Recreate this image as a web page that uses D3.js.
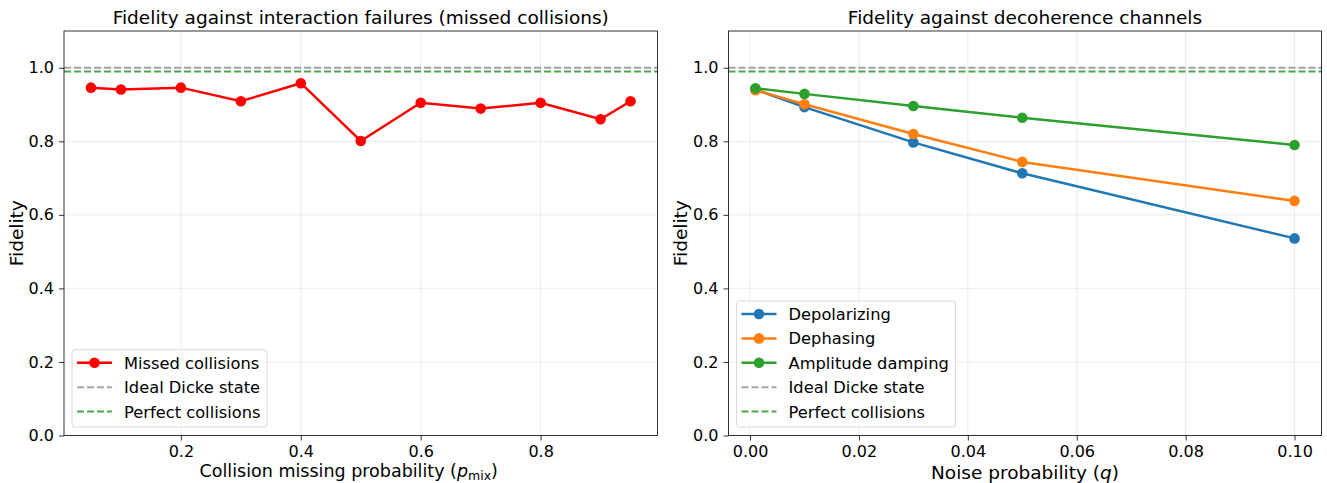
<!DOCTYPE html>
<html>
<head>
<meta charset="utf-8">
<script src="https://d3js.org/d3.v7.min.js"></script>
<style>
  body { margin: 0; background: #fff; }
  svg { font-family: "DejaVu Sans", sans-serif; }
  .grid line { stroke: #b0b0b0; stroke-opacity: 0.3; stroke-width: 0.8; }
  .axis line, .axis path { stroke: #000; stroke-width: 0.8; }
</style>
</head>
<body>
<svg width="1327" height="483"></svg>
<script>
// ---- data ----
var pMix = [0.05, 0.1, 0.2, 0.3, 0.4, 0.5, 0.6, 0.7, 0.8, 0.9, 0.95];
var fidMissed = [0.946, 0.941, 0.946, 0.909, 0.958, 0.801, 0.905, 0.889, 0.905, 0.860, 0.909];

var noiseQ = [0.001, 0.01, 0.03, 0.05, 0.1];
var fidDepol = [0.941, 0.893, 0.797, 0.713, 0.536];
var fidDephase = [0.939, 0.901, 0.820, 0.744, 0.638];
var fidAmp = [0.944, 0.929, 0.896, 0.864, 0.790];

var idealLevel = 1.0;
var perfectLevel = 0.99;

var yTicks = [0, 0.2, 0.4, 0.6, 0.8, 1.0];
var xTicksLeft = [0.2, 0.4, 0.6, 0.8];
var xTicksRight = [0, 0.02, 0.04, 0.06, 0.08, 0.10];

var svg = d3.select('svg');
var plotTop = 31, plotBottom = 435.5;

function panel(opts) {
  var x = d3.scaleLinear().domain(opts.xDomain).range([opts.left, opts.right]);
  var y = d3.scaleLinear().domain([0, 1.1]).range([plotBottom, plotTop]);
  var g = svg.append('g');

  // grid
  var grid = g.append('g').attr('class', 'grid');
  grid.selectAll('.gx').data(opts.xTicks).enter().append('line')
    .attr('x1', d => x(d)).attr('x2', d => x(d)).attr('y1', plotTop).attr('y2', plotBottom);
  grid.selectAll('.gy').data(yTicks).enter().append('line')
    .attr('y1', d => y(d)).attr('y2', d => y(d)).attr('x1', opts.left).attr('x2', opts.right);

  // reference lines
  g.append('line').attr('x1', opts.left).attr('x2', opts.right)
    .attr('y1', y(idealLevel)).attr('y2', y(idealLevel))
    .attr('stroke', 'gray').attr('stroke-opacity', 0.7).attr('stroke-width', 2)
    .attr('stroke-dasharray', '7,3');
  g.append('line').attr('x1', opts.left).attr('x2', opts.right)
    .attr('y1', y(perfectLevel)).attr('y2', y(perfectLevel))
    .attr('stroke', 'green').attr('stroke-opacity', 0.7).attr('stroke-width', 2)
    .attr('stroke-dasharray', '7,3');

  // series
  var line = d3.line().x(d => x(d[0])).y(d => y(d[1]));
  opts.series.forEach(function(s) {
    var pts = d3.zip(s.xs, s.ys);
    g.append('path').datum(pts).attr('d', line)
      .attr('fill', 'none').attr('stroke', s.color).attr('stroke-width', 2.5);
    g.selectAll(null).data(pts).enter().append('circle')
      .attr('cx', d => x(d[0])).attr('cy', d => y(d[1])).attr('r', 5.3)
      .attr('fill', s.color);
  });

  // axes
  g.append('g').attr('class', 'axis').attr('transform', 'translate(0,' + plotBottom + ')')
    .call(d3.axisBottom(x).tickValues(opts.xTicks).tickFormat(opts.xFmt).tickSize(5).tickPadding(5))
    .call(a => a.select('.domain').remove())
    .attr('font-size', 16).attr('font-family', 'DejaVu Sans');
  g.append('g').attr('class', 'axis').attr('transform', 'translate(' + opts.left + ',0)')
    .call(d3.axisLeft(y).tickValues(yTicks).tickFormat(d3.format('.1f')).tickSize(5).tickPadding(5))
    .call(a => a.select('.domain').remove())
    .attr('font-size', 16).attr('font-family', 'DejaVu Sans');

  // frame
  g.append('rect').attr('x', opts.left).attr('y', plotTop)
    .attr('width', opts.right - opts.left).attr('height', plotBottom - plotTop)
    .attr('fill', 'none').attr('stroke', '#000').attr('stroke-width', 0.8);

  // title & labels
  var cx = (opts.left + opts.right) / 2;
  g.append('text').attr('x', cx).attr('y', 24).attr('text-anchor', 'middle')
    .attr('font-size', 18.5).text(opts.title);
  var xl = g.append('text').attr('x', cx + opts.xLabelShift).attr('y', opts.xLabelY).attr('text-anchor', 'middle')
    .attr('font-size', opts.xLabelSize);
  opts.xLabel(xl);
  g.append('text').attr('transform', 'translate(' + opts.yLabelX + ',' + ((plotTop + plotBottom) / 2) + ') rotate(-90)')
    .attr('text-anchor', 'middle').attr('font-size', 18.5).text('Fidelity');

  // legend
  var items = opts.series.map(s => ({label: s.label, color: s.color, marker: true}))
    .concat([{label: 'Ideal Dicke state', color: 'gray', dash: true},
             {label: 'Perfect collisions', color: 'green', dash: true}]);
  var lg = g.append('g');
  var rowH = 24.4;
  var lx = opts.left + 8, lw = opts.legendW, lh = items.length * rowH + 4;
  var ly = 427 - lh;
  lg.append('rect').attr('x', lx).attr('y', ly).attr('width', lw).attr('height', lh)
    .attr('rx', 3).attr('fill', '#fff').attr('fill-opacity', 0.8)
    .attr('stroke', '#d9d9d9').attr('stroke-width', 1);
  items.forEach(function(it, i) {
    var yy = ly + 13 + i * rowH;
    var l = lg.append('line').attr('x1', lx + 5).attr('x2', lx + 40).attr('y1', yy).attr('y2', yy)
      .attr('stroke', it.color);
    if (it.dash) {
      l.attr('stroke-width', 2).attr('stroke-opacity', 0.7).attr('stroke-dasharray', '7,3');
    } else {
      l.attr('stroke-width', 2.5);
      lg.append('circle').attr('cx', lx + 22.5).attr('cy', yy).attr('r', 5.3).attr('fill', it.color);
    }
    lg.append('text').attr('x', lx + 52).attr('y', yy + 6).attr('font-size', 16.3).text(it.label);
  });
}

panel({
  left: 64, right: 657.5,
  xDomain: [0.005, 0.995],
  xTicks: xTicksLeft, xFmt: d3.format('.1f'),
  title: 'Fidelity against interaction failures (missed collisions)',
  xLabel: function(t) {
    t.append('tspan').text('Collision missing probability (');
    t.append('tspan').attr('font-style', 'italic').text('p');
    t.append('tspan').attr('font-size', 12.5).attr('dy', 2.5).text('mix');
    t.append('tspan').attr('dy', -2.5).text(')');
  },
  xLabelShift: -12,
  xLabelY: 477,
  xLabelSize: 17.5,
  yLabelX: 23,
  legendW: 195,
  series: [{xs: pMix, ys: fidMissed, color: 'red', label: 'Missed collisions'}]
});

panel({
  left: 728.5, right: 1321.5,
  xDomain: [-0.00395, 0.10495],
  xTicks: xTicksRight, xFmt: d3.format('.2f'),
  title: 'Fidelity against decoherence channels',
  xLabel: function(t) {
    t.append('tspan').text('Noise probability (');
    t.append('tspan').attr('font-style', 'italic').text('q');
    t.append('tspan').text(')');
  },
  xLabelShift: 0,
  xLabelY: 479,
  xLabelSize: 18.5,
  yLabelX: 687,
  legendW: 219,
  series: [
    {xs: noiseQ, ys: fidDepol, color: '#1f77b4', label: 'Depolarizing'},
    {xs: noiseQ, ys: fidDephase, color: '#ff7f0e', label: 'Dephasing'},
    {xs: noiseQ, ys: fidAmp, color: '#2ca02c', label: 'Amplitude damping'}
  ]
});
</script>
</body>
</html>
